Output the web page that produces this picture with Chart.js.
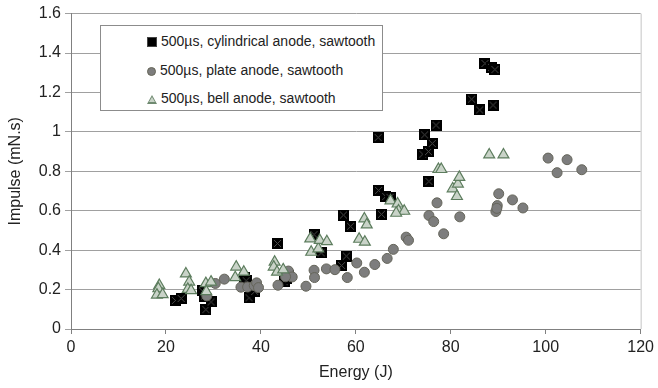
<!DOCTYPE html>
<html>
<head>
<meta charset="utf-8">
<script src="https://cdn.jsdelivr.net/npm/chart.js@4/dist/chart.umd.min.js"></script>
<style>
  body { margin: 0; background: #fff; }
  #wrap { position: relative; width: 658px; height: 388px; }
  #legend {
    position: absolute; left: 100px; top: 25px; width: 281px; height: 84px;
    border: 1px solid #8c8c8c; background: #fff;
    font-family: 'Liberation Sans', Arial, sans-serif; font-size: 14px; color: #222;
  }
  .row { position: absolute; left: 46px; height: 16px; line-height: 16px; white-space: nowrap; }
  .mk { display: inline-block; vertical-align: middle; margin-right: 4px; }
  .sq { width: 8px; height: 8px; background: #000; border: 1px solid #444; }
  .ci { width: 7px; height: 7px; border-radius: 50%; background: #7d7d7d; border: 1px solid #666658; }
  .tr { width: 0; height: 0; border-left: 5px solid transparent; border-right: 5px solid transparent;
        border-bottom: 9px solid #6f8a70; position: relative; }
  .tr::after { content: ''; position: absolute; left: -3px; top: 2px; border-left: 3px solid transparent;
        border-right: 3px solid transparent; border-bottom: 5.5px solid #c9d3c8; }
</style>
</head>
<body>
<div id="wrap">
  <canvas id="chart" width="658" height="388"></canvas>
  <div id="legend">
    <div class="row" style="top:7px"><span class="mk sq"></span>500µs, cylindrical anode, sawtooth</div>
    <div class="row" style="top:36px"><span class="mk ci"></span>500µs, plate anode, sawtooth</div>
    <div class="row" style="top:64px"><span class="mk tr"></span>500µs, bell anode, sawtooth</div>
  </div>
</div>
<script>
// ─── Data ──────────────────────────────────────────────────────────────────
const cylEnergy  = [22.0, 23.2, 27.7, 28.1, 28.4, 29.5, 36.6, 36.9, 37.5, 38.7, 43.5, 44.9, 45.4, 45.9,
                    51.2, 52.7, 57.0, 58.0, 57.4, 58.9, 64.7, 64.8, 65.4, 66.3, 67.2, 74.1, 75.3, 75.4,
                    76.1, 74.5, 76.9, 84.4, 86.1, 88.9, 87.2, 88.6, 89.3];
const cylImpulse = [0.145, 0.155, 0.193, 0.167, 0.098, 0.137, 0.262, 0.245, 0.158, 0.190, 0.434, 0.240, 0.257, 0.270,
                    0.479, 0.386, 0.322, 0.370, 0.578, 0.521, 0.971, 0.703, 0.582, 0.672, 0.668, 0.887, 0.900, 0.749,
                    0.941, 0.985, 1.034, 1.166, 1.111, 1.136, 1.347, 1.327, 1.316];

const plateEnergy  = [28.6, 30.4, 32.3, 35.8, 37.2, 38.6, 39.1, 39.5, 43.6, 45.8, 46.6, 45.2, 49.5, 51.2,
                      51.3, 53.8, 55.6, 58.2, 60.2, 61.8, 64.0, 66.6, 67.9, 70.6, 71.1, 75.4, 76.4, 77.1,
                      78.5, 81.9, 89.5, 89.8, 90.1, 89.7, 93.0, 95.2, 100.5, 102.4, 104.5, 107.6];
const plateImpulse = [0.168, 0.231, 0.253, 0.212, 0.213, 0.220, 0.234, 0.210, 0.222, 0.294, 0.264, 0.265, 0.217, 0.298,
                      0.261, 0.305, 0.301, 0.261, 0.335, 0.288, 0.327, 0.358, 0.404, 0.466, 0.450, 0.576, 0.545, 0.640,
                      0.483, 0.569, 0.596, 0.626, 0.686, 0.612, 0.655, 0.614, 0.867, 0.793, 0.859, 0.808];

const bellEnergy  = [18.6, 18.4, 18.1, 19.3, 24.2, 24.9, 24.6, 25.3, 28.4, 29.5, 28.5, 34.8, 34.6, 36.4,
                     42.9, 42.7, 43.4, 44.7, 50.4, 50.6, 52.1, 52.4, 53.9, 61.8, 62.3, 60.7, 61.9,
                     67.3, 68.8, 69.0, 70.2, 68.5, 77.4, 78.0, 80.4, 81.3, 81.5, 81.8, 88.1, 91.1];
const bellImpulse = [0.222, 0.205, 0.173, 0.175, 0.280, 0.239, 0.202, 0.195, 0.231, 0.239, 0.190, 0.315, 0.261, 0.289,
                     0.340, 0.315, 0.289, 0.301, 0.458, 0.390, 0.407, 0.450, 0.444, 0.559, 0.529, 0.456, 0.441,
                     0.651, 0.635, 0.600, 0.598, 0.588, 0.810, 0.810, 0.712, 0.673, 0.736, 0.770, 0.884, 0.884];

const xTicks = [0, 20, 40, 60, 80, 100, 120];
const yTicks = [0, 0.2, 0.4, 0.6, 0.8, 1, 1.2, 1.4, 1.6];

const pts = (xs, ys) => xs.map((x, i) => ({ x, y: ys[i] }));

// black square with a grey cross, like the original marker
const squareMark = (() => {
  const c = document.createElement('canvas');
  c.width = 11; c.height = 11;
  const g = c.getContext('2d');
  g.fillStyle = '#000';
  g.fillRect(0, 0, 11, 11);
  g.strokeStyle = '#4a4a4a';
  g.lineWidth = 1;
  g.beginPath();
  g.moveTo(2, 2); g.lineTo(9, 9);
  g.moveTo(9, 2); g.lineTo(2, 9);
  g.stroke();
  return c;
})();

const font = 'Liberation Sans, Arial, sans-serif';
const textColor = '#222';

// thin light border on the right edge of the plot
const rightBorder = {
  id: 'rightBorder',
  afterDraw(chart) {
    const { ctx, chartArea: a } = chart;
    ctx.save();
    ctx.strokeStyle = '#c4c4c4';
    ctx.lineWidth = 1;
    ctx.beginPath();
    ctx.moveTo(a.right + 0.5, a.top);
    ctx.lineTo(a.right + 0.5, a.bottom);
    ctx.stroke();
    ctx.restore();
  },
};

new Chart(document.getElementById('chart'), {
  type: 'scatter',
  data: {
    datasets: [
      {
        label: '500µs, cylindrical anode, sawtooth',
        data: pts(cylEnergy, cylImpulse),
        pointStyle: squareMark,
        order: 2,
      },
      {
        label: '500µs, plate anode, sawtooth',
        data: pts(plateEnergy, plateImpulse),
        pointStyle: 'circle',
        pointRadius: 5,
        backgroundColor: '#7d7d7d',
        borderColor: '#65655a',
        borderWidth: 1,
        order: 1,
      },
      {
        label: '500µs, bell anode, sawtooth',
        data: pts(bellEnergy, bellImpulse),
        pointStyle: 'triangle',
        pointRadius: 6.3,
        backgroundColor: '#c9d3c8',
        borderColor: '#5d7d5e',
        borderWidth: 1.2,
        order: 0,
      },
    ],
  },
  options: {
    responsive: false,
    devicePixelRatio: 1,
    animation: false,
    layout: { padding: { left: 0, right: 14, top: 12, bottom: 2 } },
    plugins: { legend: { display: false }, tooltip: { enabled: false } },
    scales: {
      x: {
        type: 'linear',
        min: xTicks[0],
        max: xTicks[xTicks.length - 1],
        afterBuildTicks: s => { s.ticks = xTicks.map(v => ({ value: v })); },
        afterFit: s => { s.height = 57; },
        ticks: { color: textColor, font: { family: font, size: 16 }, padding: 4 },
        grid: { drawOnChartArea: false, drawTicks: true, tickLength: 5, color: '#808080' },
        border: { color: '#808080' },
        title: {
          display: true, text: 'Energy (J)', color: textColor,
          font: { family: font, size: 16 }, padding: { top: 4, bottom: 4 },
        },
      },
      y: {
        type: 'linear',
        min: yTicks[0],
        max: yTicks[yTicks.length - 1],
        afterBuildTicks: s => { s.ticks = yTicks.map(v => ({ value: v })); },
        afterFit: s => { s.width = 71; },
        ticks: {
          color: textColor, font: { family: font, size: 16 }, padding: 4,
          callback: v => String(Math.round(v * 10) / 10),
        },
        grid: { color: '#a0a0a0', tickLength: 6 },
        border: { color: '#808080' },
        title: {
          display: true, text: 'Impulse (mN.s)', color: textColor,
          font: { family: font, size: 16 }, padding: { top: 6, bottom: 4 },
        },
      },
    },
  },
  plugins: [rightBorder],
});
</script>
</body>
</html>
